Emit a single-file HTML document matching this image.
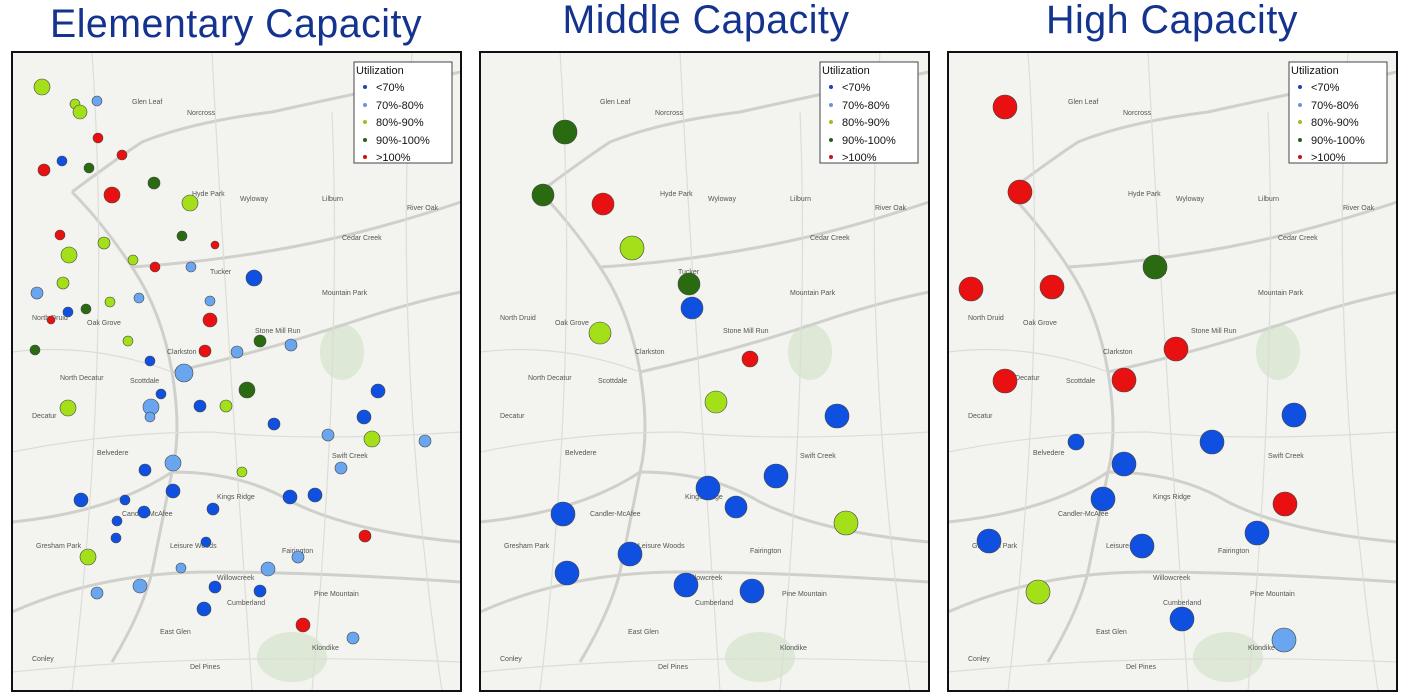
<!DOCTYPE html>
<html><head><meta charset="utf-8"><style>
html,body{margin:0;padding:0;background:#fff;}
svg{display:block}
.t{font-family:"Liberation Sans",sans-serif;font-size:40px;fill:#13338f;text-anchor:middle;letter-spacing:0.5px}
.lg{font-family:"Liberation Sans",sans-serif;font-size:11px;fill:#111}
.pl{font-family:"Liberation Sans",sans-serif;font-size:7px;fill:#555}
</style></head><body>
<svg width="1408" height="696" viewBox="0 0 1408 696" xmlns="http://www.w3.org/2000/svg">
<defs>
<g id="map">
<rect x="0" y="0" width="449" height="639" fill="#f3f3ef"/>
<ellipse cx="330" cy="300" rx="22" ry="28" fill="#dde8d6"/>
<ellipse cx="280" cy="605" rx="35" ry="25" fill="#dde8d6"/>
<g fill="none" stroke="#cfcfcc" stroke-width="3">
<path d="M60 140 Q100 110 130 90 Q180 70 260 60 Q350 40 449 20"/>
<path d="M60 140 Q90 170 120 215 Q150 260 160 320 Q170 380 160 420 Q150 470 140 520 Q130 560 100 610"/>
<path d="M0 470 Q100 460 160 420 Q230 420 280 450 Q340 480 449 490"/>
<path d="M0 560 Q90 520 200 520 Q300 520 449 530"/>
<path d="M120 215 Q200 210 280 195 Q360 180 449 150"/>
<path d="M160 320 Q250 300 340 270 Q400 250 449 240"/>
</g>
<g fill="none" stroke="#dcdcd9" stroke-width="1.2">
<path d="M0 300 Q80 290 160 320"/><path d="M200 0 Q210 200 240 639"/>
<path d="M0 400 Q100 380 200 380 Q300 390 449 380"/>
<path d="M320 60 Q330 300 300 639"/><path d="M0 620 Q200 600 449 610"/>
<path d="M80 0 Q100 300 60 639"/><path d="M400 0 Q380 300 430 639"/>
</g>
<text class="pl" x="120" y="52">Glen Leaf</text><text class="pl" x="175" y="63">Norcross</text>
<text class="pl" x="180" y="144">Hyde Park</text><text class="pl" x="228" y="149">Wyloway</text>
<text class="pl" x="310" y="149">Lilburn</text><text class="pl" x="395" y="158">River Oak</text>
<text class="pl" x="330" y="188">Cedar Creek</text><text class="pl" x="198" y="222">Tucker</text>
<text class="pl" x="310" y="243">Mountain Park</text><text class="pl" x="20" y="268">North Druid</text>
<text class="pl" x="75" y="273">Oak Grove</text><text class="pl" x="243" y="281">Stone Mill Run</text>
<text class="pl" x="155" y="302">Clarkston</text><text class="pl" x="48" y="328">North Decatur</text>
<text class="pl" x="118" y="331">Scottdale</text><text class="pl" x="20" y="366">Decatur</text>
<text class="pl" x="85" y="403">Belvedere</text><text class="pl" x="320" y="406">Swift Creek</text>
<text class="pl" x="205" y="447">Kings Ridge</text><text class="pl" x="110" y="464">Candler-McAfee</text>
<text class="pl" x="24" y="496">Gresham Park</text><text class="pl" x="158" y="496">Leisure Woods</text>
<text class="pl" x="270" y="501">Fairington</text><text class="pl" x="205" y="528">Willowcreek</text>
<text class="pl" x="302" y="544">Pine Mountain</text><text class="pl" x="215" y="553">Cumberland</text>
<text class="pl" x="148" y="582">East Glen</text><text class="pl" x="20" y="609">Conley</text>
<text class="pl" x="178" y="617">Del Pines</text><text class="pl" x="300" y="598">Klondike</text>
</g>
<g id="leg">
<rect x="0" y="0" width="98" height="101" fill="#fff" stroke="#444" stroke-width="1"/>
<text class="lg" x="2" y="12">Utilization</text>
<circle cx="11" cy="25" r="2" fill="#1a45b0"/><text class="lg" x="22" y="29">&lt;70%</text>
<circle cx="11" cy="43" r="2" fill="#6a95d8"/><text class="lg" x="22" y="47">70%-80%</text>
<circle cx="11" cy="60" r="2" fill="#a0c020"/><text class="lg" x="22" y="64">80%-90%</text>
<circle cx="11" cy="78" r="2" fill="#2a6010"/><text class="lg" x="22" y="82">90%-100%</text>
<circle cx="11" cy="95" r="2" fill="#d01010"/><text class="lg" x="22" y="99">&gt;100%</text>
</g>
</defs>
<text class="t" x="236" y="37" textLength="372" lengthAdjust="spacingAndGlyphs">Elementary Capacity</text>
<text class="t" x="706" y="33" textLength="287" lengthAdjust="spacingAndGlyphs">Middle Capacity</text>
<text class="t" x="1172" y="33" textLength="252" lengthAdjust="spacingAndGlyphs">High Capacity</text>

<use href="#map" x="12" y="52"/><use href="#map" x="480" y="52"/><use href="#map" x="948" y="52"/>
<rect x="12" y="52" width="449" height="639" fill="none" stroke="#111" stroke-width="2"/>
<rect x="480" y="52" width="449" height="639" fill="none" stroke="#111" stroke-width="2"/>
<rect x="948" y="52" width="449" height="639" fill="none" stroke="#111" stroke-width="2"/>

<g stroke="#444" stroke-width="0.6">
<g fill="#a4e01a"><circle cx="42" cy="87" r="8"/><circle cx="75" cy="104" r="5"/><circle cx="80" cy="112" r="7"/><circle cx="190" cy="203" r="8"/><circle cx="104" cy="243" r="6"/><circle cx="69" cy="255" r="8"/><circle cx="133" cy="260" r="5"/><circle cx="63" cy="283" r="6"/><circle cx="110" cy="302" r="5"/><circle cx="128" cy="341" r="5"/><circle cx="68" cy="408" r="8"/><circle cx="226" cy="406" r="6"/><circle cx="372" cy="439" r="8"/><circle cx="242" cy="472" r="5"/><circle cx="88" cy="557" r="8"/>
<circle cx="632" cy="248" r="12"/><circle cx="600" cy="333" r="11"/><circle cx="716" cy="402" r="11"/><circle cx="846" cy="523" r="12"/><circle cx="1038" cy="592" r="12"/></g>
<g fill="#6aa6f0"><circle cx="97" cy="101" r="5"/><circle cx="191" cy="267" r="5"/><circle cx="37" cy="293" r="6"/><circle cx="139" cy="298" r="5"/><circle cx="210" cy="301" r="5"/><circle cx="291" cy="345" r="6"/><circle cx="237" cy="352" r="6"/><circle cx="184" cy="373" r="9"/><circle cx="151" cy="407" r="8"/><circle cx="150" cy="417" r="5"/><circle cx="328" cy="435" r="6"/><circle cx="425" cy="441" r="6"/><circle cx="173" cy="463" r="8"/><circle cx="341" cy="468" r="6"/><circle cx="298" cy="557" r="6"/><circle cx="181" cy="568" r="5"/><circle cx="268" cy="569" r="7"/><circle cx="140" cy="586" r="7"/><circle cx="97" cy="593" r="6"/><circle cx="353" cy="638" r="6"/><circle cx="1284" cy="640" r="12"/></g>
<g fill="#2a6a10"><circle cx="89" cy="168" r="5"/><circle cx="154" cy="183" r="6"/><circle cx="182" cy="236" r="5"/><circle cx="86" cy="309" r="5"/><circle cx="260" cy="341" r="6"/><circle cx="35" cy="350" r="5"/><circle cx="247" cy="390" r="8"/>
<circle cx="565" cy="132" r="12"/><circle cx="543" cy="195" r="11"/><circle cx="689" cy="284" r="11"/><circle cx="1155" cy="267" r="12"/></g>
<g fill="#e81010"><circle cx="98" cy="138" r="5"/><circle cx="122" cy="155" r="5"/><circle cx="44" cy="170" r="6"/><circle cx="112" cy="195" r="8"/><circle cx="60" cy="235" r="5"/><circle cx="215" cy="245" r="4"/><circle cx="155" cy="267" r="5"/><circle cx="51" cy="320" r="4"/><circle cx="210" cy="320" r="7"/><circle cx="205" cy="351" r="6"/><circle cx="365" cy="536" r="6"/><circle cx="303" cy="625" r="7"/>
<circle cx="603" cy="204" r="11"/><circle cx="750" cy="359" r="8"/>
<circle cx="1005" cy="107" r="12"/><circle cx="1020" cy="192" r="12"/><circle cx="971" cy="289" r="12"/><circle cx="1052" cy="287" r="12"/><circle cx="1176" cy="349" r="12"/><circle cx="1005" cy="381" r="12"/><circle cx="1124" cy="380" r="12"/><circle cx="1285" cy="504" r="12"/></g>
<g fill="#1050e0"><circle cx="62" cy="161" r="5"/><circle cx="254" cy="278" r="8"/><circle cx="68" cy="312" r="5"/><circle cx="150" cy="361" r="5"/><circle cx="378" cy="391" r="7"/><circle cx="161" cy="394" r="5"/><circle cx="200" cy="406" r="6"/><circle cx="364" cy="417" r="7"/><circle cx="274" cy="424" r="6"/><circle cx="145" cy="470" r="6"/><circle cx="173" cy="491" r="7"/><circle cx="81" cy="500" r="7"/><circle cx="125" cy="500" r="5"/><circle cx="290" cy="497" r="7"/><circle cx="315" cy="495" r="7"/><circle cx="213" cy="509" r="6"/><circle cx="117" cy="521" r="5"/><circle cx="144" cy="512" r="6"/><circle cx="116" cy="538" r="5"/><circle cx="206" cy="542" r="5"/><circle cx="215" cy="587" r="6"/><circle cx="260" cy="591" r="6"/><circle cx="204" cy="609" r="7"/>
<circle cx="692" cy="308" r="11"/><circle cx="837" cy="416" r="12"/><circle cx="776" cy="476" r="12"/><circle cx="708" cy="488" r="12"/><circle cx="736" cy="507" r="11"/><circle cx="563" cy="514" r="12"/><circle cx="630" cy="554" r="12"/><circle cx="567" cy="573" r="12"/><circle cx="686" cy="585" r="12"/><circle cx="752" cy="591" r="12"/>
<circle cx="1294" cy="415" r="12"/><circle cx="1076" cy="442" r="8"/><circle cx="1212" cy="442" r="12"/><circle cx="1124" cy="464" r="12"/><circle cx="1103" cy="499" r="12"/><circle cx="1257" cy="533" r="12"/><circle cx="989" cy="541" r="12"/><circle cx="1142" cy="546" r="12"/><circle cx="1182" cy="619" r="12"/></g>
</g>

<use href="#leg" x="354" y="62"/><use href="#leg" x="820" y="62"/><use href="#leg" x="1289" y="62"/>
</svg>
</body></html>
